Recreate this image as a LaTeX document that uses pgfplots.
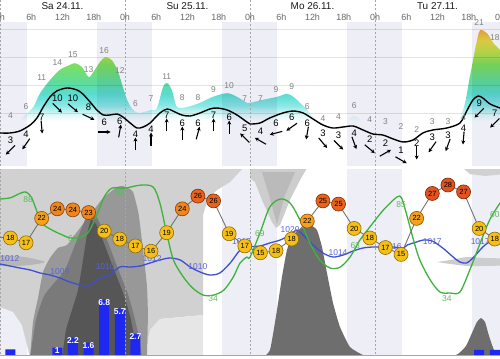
\documentclass[border=0pt]{standalone}
\usepackage{fontspec}
\setmainfont{Liberation Sans}
\usepackage{pgfplots}
\pgfplotsset{compat=1.18}
\usepackage{pgfplotstable}
\usetikzlibrary{arrows.meta}

\definecolor{nightc}{HTML}{EEEEF6}
\definecolor{gridc}{HTML}{E4E4E4}
\definecolor{hum}{HTML}{3DB33D}
\definecolor{humlab}{HTML}{5DBB5D}
\definecolor{pres}{HTML}{3E4FCF}
\definecolor{preslab}{HTML}{5B62D6}
\definecolor{barc}{HTML}{1E28F0}
\definecolor{ty}{HTML}{F6BF17}\definecolor{tyd}{HTML}{8F6A00}
\definecolor{to}{HTML}{F4A21E}\definecolor{tod}{HTML}{8F5200}
\definecolor{tr}{HTML}{EE861F}\definecolor{trd}{HTML}{8A4000}
\definecolor{tR}{HTML}{E8631F}\definecolor{tRd}{HTML}{7F2F00}
\definecolor{tX}{HTML}{E4521F}\definecolor{tXd}{HTML}{7A2500}
\definecolor{cA}{HTML}{D1D1D1}
\definecolor{cB}{HTML}{E6E6E6}
\definecolor{cL}{HTML}{B6B6B6}
\definecolor{cM}{HTML}{989898}
\definecolor{cD}{HTML}{7A7A7A}
\definecolor{cE}{HTML}{565656}
\definecolor{cV}{HTML}{CDCDCD}
\definecolor{cW}{HTML}{BABABA}
\definecolor{cK}{HTML}{6E6E6E}
\definecolor{gA}{HTML}{E2F8F7}
\definecolor{gB}{HTML}{8EE9E6}
\definecolor{gC}{HTML}{5ADCD2}
\definecolor{gD}{HTML}{5EDC9E}
\definecolor{gE}{HTML}{7DDF5C}
\definecolor{gF}{HTML}{BCE24A}
\definecolor{gG}{HTML}{EBD844}
\definecolor{gH}{HTML}{F2A43C}
\pgfdeclareverticalshading{gust}{100bp}{color(0bp)=(white); color(38.5bp)=(white); color(40.4bp)=(gA); color(43.1bp)=(gB); color(46.6bp)=(gC); color(50.2bp)=(gD); color(55.6bp)=(gE); color(59.2bp)=(gF); color(62.8bp)=(gG); color(66.4bp)=(gH); color(100bp)=(gH)}

\newcommand\fs[1]{\fontsize{#1}{#1}\selectfont}

% ---------------- data ----------------
\pgfplotstableread{
h g
-1 3.5
2 4
5 6.3
6.4 7.5
7.7 9.8
9.6 12
11.5 13.7
13.4 14.5
14.4 14.8
15.7 14.2
17 12.5
17.9 13.3
19.2 15
20.2 15.8
21.5 15.3
22.7 13.3
23.6 10.8
24.4 8.7
25.3 7.3
26.5 6.5
29 7
30.1 7.3
31.3 10.8
32.1 11.5
33 10.3
34 7.5
35.9 7.5
38.4 8.2
40.9 9.2
43.6 9.8
45.5 9.2
47.4 8.2
48 8.2
50.5 8.7
53.2 9.2
55.1 9.7
56.3 9.2
57.6 8.2
59 7
62 4
65 4
68 6
71 4
74 3
77 2
80 2
83 3
86 3
88.9 7
90.2 12.5
91.6 18.7
92.2 20.3
93.5 19.8
94.7 18.2
96 17
}\gusttab

\pgfplotstableread{
h v
-1 3.17
0 3.17
1.9 3.17
3.8 3.5
5.8 4.5
7.1 5.67
8.3 7.5
9.6 9.17
10.9 10.17
12.9 10.67
14.8 10.33
15.9 9.67
17.3 8.33
18.6 7
19.8 6.17
21.1 6.17
22.5 6.33
23.6 5.83
25 4.83
26.3 4
27.5 4.17
28.8 4.83
30.7 6.5
32.1 7.17
33.2 6.83
34.9 6.17
36.5 6
38.4 6.5
40.3 7.17
41.7 7.33
43.6 7
45.5 6.17
47.4 5
48 4.67
49.9 4.83
51.8 5.67
54.3 6.5
56.3 6.83
58.2 6.5
60.1 5.5
62 4.5
63.9 4
65.9 4.17
67.8 4.33
69.7 3.67
71.6 3
73.5 2.83
75.5 2.17
77.4 1.67
79.3 2
81.2 3.17
83.1 3.67
85.8 4
88.3 4.83
89.7 7
90.8 8.67
91.8 9.33
92.7 9
94.1 8
96 7.33
97 7
}\windline

\pgfplotstableread{
h ly lab dir
2 2.0 3 225
5 3.0 4 235
8 5.83 7 275
11 9.0 10 315
14 9.0 10 320
17 7.5 8 335
20 5.0 6 0
23 5.17 6 80
26 3.0 4 90
29 3.83 4 90
32 6.17 7 90
35 4.83 6 90
38 4.83 6 75
41 6.17 7 90
44 5.83 6 90
47 4.0 5 135
50 3.5 4 150
53 4.83 6 195
56 5.83 6 215
59 4.83 6 260
62 3.17 3 310
65 2.83 3 315
68 3.17 4 290
71 2.17 2 320
74 1.5 2 30
77 0.33 1 330
80 1.5 2 270
83 2.5 3 235
86 2.83 3 250
89 4.0 4 265
92 8.17 9 225
95 6.5 7 225
}\windtab

\pgfplotstableread{
h ly lab
2 6.0 4
5 7.5 6
8 12.33 11
11 14.83 14
14 16.17 15
17 13.67 13
20 16.83 16
23 13.5 12
26 8.0 6
29 8.83 7
32 12.5 11
35 9.0 8
38 9.0 8
41 10.33 9
44 11.0 10
47 8.83 7
50 8.83 7
53 10.33 9
56 10.83 9
59 7.5 6
62 5.5 4
65 5.83 4
68 7.67 6
71 5.33 4
74 5.0 3
77 4.17 2
80 3.67 2
83 5.0 3
86 5.0 3
89 5.67 4
92 21.5 21
95 19.0 18
}\gustlab

\pgfplotstableread{
h pos lab cls
-1 18.2 18 y
2 18.0 18 y
5 17.1 17 y
8 21.7 22 o
11 23.5 24 r
14 23.3 24 r
17 22.8 23 r
20 19.3 20 y
23 17.8 18 y
26 16.5 17 y
29 15.5 16 y
32 19.0 19 y
35 23.5 24 r
38 25.9 26 R
41 25.0 26 R
44 18.8 19 y
47 16.5 17 y
50 15.2 15 y
53 15.6 18 y
56 17.8 18 y
59 21.2 22 o
62 25.0 25 R
65 24.4 25 R
68 19.8 20 y
71 18.0 18 y
74 16.2 17 y
77 14.9 15 y
80 21.7 22 o
83 26.4 27 X
86 28.0 28 X
89 26.7 27 X
92 19.8 20 y
95 17.8 18 y
}\temptab

\pgfplotstableread{
h H
-1 84
0 84.8
2 85.5
4 88
5 88.5
6 85.9
7 79
8 72.1
10 68.4
12 65.8
13.5 64.2
15.5 64.7
17 67.4
18.6 76.4
20 85.9
21.5 90.6
24 90.6
27 92.2
29.4 91.2
30.7 82.7
32 66.8
33.3 52.6
35.2 43.6
37 37.7
39 34
41 34
43 36.7
44.8 43.6
46.1 51
47.4 54.1
48 54.1
49.9 66.8
51.8 80.6
53.8 84.8
55.7 82.7
57.6 73.7
59.5 61.5
61.4 52.6
63.4 48.3
65.3 48.8
67.2 54.1
69.1 63.1
71 70
73.6 79
76.2 85.9
77.1 85.4
78 77.4
79.4 63.1
80.6 52.6
82.6 42
84.5 35.6
86.4 35.1
88.3 35.6
90.2 47.3
92.2 61.5
94 73.7
96 82.7
97 86
}\humtab

\pgfplotstableread{
h y lab
5.4 84.8 88
14 63.7 63
23 88 92
40.9 31.9 34
49.9 66.3 69
68.2 60 63
77 81.7 85
85.8 31.9 34
95 76.4 60
}\humlab

\pgfplotstableread{
h p
-1 1013.6
0 1013.4
1.9 1013
3.8 1012.6
5.8 1012.2
7.7 1011.6
9.6 1011.2
11.5 1010.6
13.4 1009.8
15.4 1009.2
16.6 1009
17.9 1009.6
19.2 1010.6
21.1 1011.2
23 1012.8
25 1012.8
26.9 1013
28.8 1013.6
30.7 1014.2
32.6 1014.6
34.6 1014.2
36.5 1012.8
38.4 1011.8
40.3 1011.2
42.2 1011.6
44.2 1013.6
46.1 1016.2
47.4 1016.8
49.9 1017
51.8 1017.6
53.8 1018.2
55.7 1019.2
57 1020.2
58.2 1019.2
60.1 1017.2
62 1015.6
63.9 1014.8
65.9 1015.2
67.8 1016
69.7 1016.6
71.6 1016.8
73.5 1016.8
75.5 1016.8
77.4 1016.6
78.2 1017.2
80 1017.8
81.3 1018.2
83 1018
85 1016.6
87 1014.8
88.3 1013.8
89.6 1013.6
90.8 1014.6
92.7 1016.8
94 1017.8
96 1018.2
97 1018.3
}\prestab

\pgfplotstableread{
h y lab
1.9 1014.4 1012
11.5 1011.8 1009
20.2 1012.8 1010
29.2 1014.4 1012
38 1012.8 1010
46.4 1017.8 1017
55.7 1020.2 1020
64.9 1015.6 1014
75.3 1016.8 1016
83 1017.8 1017
92.2 1017.8 1017
}\preslab

\pgfplotstableread{
h r
2 0.8
11 1.0
14 2.2
17 1.6
20 6.8
23 5.7
26 2.7
92 0.75
95 0.75
}\raintab

\pgfplotstableread{
h r lab
11 1.0 1
14 2.2 2.2
17 1.6 1.6
20 6.8 6.8
23 5.7 5.7
26 2.7 2.7
}\rainlab

\pgfplotsset{
  panel/.style={scale only axis, width=500bp, xmin=0, xmax=96, hide axis, anchor=south west},
  bottom/.style={panel, at={(0bp,3bp)}, height=186bp},
  lab/.style={draw=none, mark=none, nodes near coords, point meta=explicit symbolic,
    nodes near coords style={anchor=center, inner sep=0pt, #1}},
}

\begin{document}
\begin{tikzpicture}
\useasboundingbox (0,0) rectangle (500bp,359bp);

% ================= TOP PANEL (wind) =================
\begin{axis}[panel, at={(0bp,193bp)}, height=166bp, ymin=-2.3333, ymax=25.3333]
\addplot[draw=none, shade, shading=gust, smooth, tension=0.5] table[x=h,y=g]{\gusttab} \closedcycle (axis cs:0,-2.3333) (axis cs:96,25.3333);
\fill[nightc, blend mode=multiply] (axis cs:-6,-2.4) rectangle (axis cs:5.2,21.7);
\fill[nightc, blend mode=multiply] (axis cs:18.6,-2.4) rectangle (axis cs:29.2,21.7);
\fill[nightc, blend mode=multiply] (axis cs:42.6,-2.4) rectangle (axis cs:53.2,21.7);
\fill[nightc, blend mode=multiply] (axis cs:66.6,-2.4) rectangle (axis cs:77.2,21.7);
\fill[nightc, blend mode=multiply] (axis cs:90.6,-2.4) rectangle (axis cs:102,21.7);
\draw[gridc, line width=0.5bp, blend mode=multiply] (axis cs:0,20.5) -- (axis cs:96,20.5);
\draw[gridc, line width=0.5bp, blend mode=multiply] (axis cs:0,15.83) -- (axis cs:96,15.83);
\draw[gridc, line width=0.5bp, blend mode=multiply] (axis cs:0,11.17) -- (axis cs:96,11.17);
\draw[gridc, line width=0.5bp, blend mode=multiply] (axis cs:0,6.5) -- (axis cs:96,6.5);
\draw[gray!70, line width=0.6bp, dash pattern=on 2bp off 2bp] (axis cs:0,-2.4) -- (axis cs:0,26);
\draw[gray!70, line width=0.6bp, dash pattern=on 2bp off 2bp] (axis cs:24,-2.4) -- (axis cs:24,26);
\draw[gray!70, line width=0.6bp, dash pattern=on 2bp off 2bp] (axis cs:48,-2.4) -- (axis cs:48,26);
\draw[gray!70, line width=0.6bp, dash pattern=on 2bp off 2bp] (axis cs:72,-2.4) -- (axis cs:72,26);
\draw[gray!70, line width=0.6bp, dash pattern=on 2bp off 2bp] (axis cs:96,-2.4) -- (axis cs:96,26);
\addplot[black, line width=1.4bp, smooth, tension=0.5] table[x=h,y=v]{\windline};
\addplot[lab={font=\fs{8.5}, text=black!50}] table[x=h,y=ly,meta=lab]{\gustlab};
\addplot[lab={font=\fs{9.5}, text=black}] table[x=h,y=ly,meta=lab]{\windtab};
\addplot[black, line width=1.1bp, -{Stealth[length=4bp,width=4bp]},
  quiver={u={2.5*cos(\thisrow{dir})}, v={2.1667*sin(\thisrow{dir})}}]
  table[x expr={\thisrow{h}-1.25*cos(\thisrow{dir})}, y expr={\thisrow{ly}-1.6667-1.0833*sin(\thisrow{dir})}]{\windtab};
% day and hour labels
\node[font=\fs{10}, text=black!90] at (axis cs:12,24.33) {Sa 24.11.};
\node[font=\fs{10}, text=black!90] at (axis cs:36,24.33) {Su 25.11.};
\node[font=\fs{10}, text=black!90] at (axis cs:60,24.33) {Mo 26.11.};
\node[font=\fs{10}, text=black!90] at (axis cs:84,24.33) {Tu 27.11.};
\node[font=\fs{9}, text=black!60] at (axis cs:0,22.5) {0h};
\node[font=\fs{9}, text=black!60] at (axis cs:6,22.5) {6h};
\node[font=\fs{9}, text=black!60] at (axis cs:12,22.5) {12h};
\node[font=\fs{9}, text=black!60] at (axis cs:18,22.5) {18h};
\node[font=\fs{9}, text=black!60] at (axis cs:24,22.5) {0h};
\node[font=\fs{9}, text=black!60] at (axis cs:30,22.5) {6h};
\node[font=\fs{9}, text=black!60] at (axis cs:36,22.5) {12h};
\node[font=\fs{9}, text=black!60] at (axis cs:42,22.5) {18h};
\node[font=\fs{9}, text=black!60] at (axis cs:48,22.5) {0h};
\node[font=\fs{9}, text=black!60] at (axis cs:54,22.5) {6h};
\node[font=\fs{9}, text=black!60] at (axis cs:60,22.5) {12h};
\node[font=\fs{9}, text=black!60] at (axis cs:66,22.5) {18h};
\node[font=\fs{9}, text=black!60] at (axis cs:72,22.5) {0h};
\node[font=\fs{9}, text=black!60] at (axis cs:78,22.5) {6h};
\node[font=\fs{9}, text=black!60] at (axis cs:84,22.5) {12h};
\node[font=\fs{9}, text=black!60] at (axis cs:90,22.5) {18h};
\node[font=\fs{9}, text=black!60] at (axis cs:96,22.5) {0h};
\end{axis}

% ================= BOTTOM PANEL: clouds =================
\begin{axis}[bottom, ymin=0, ymax=100]
\fill[nightc] (axis cs:-6,-1) rectangle (axis cs:5.2,101);
\fill[nightc] (axis cs:18.6,-1) rectangle (axis cs:29.2,101);
\fill[nightc] (axis cs:42.6,-1) rectangle (axis cs:53.2,101);
\fill[nightc] (axis cs:66.6,-1) rectangle (axis cs:77.2,101);
\fill[nightc] (axis cs:90.6,-1) rectangle (axis cs:102,101);
\addplot[fill=cA, draw=none] coordinates {(-1,101) (46.66,101) (44.16,93.5) (41.66,89.2) (39.94,84.9) (38.98,75.8) (38.98,22.0) (30.72,19.9) (28.8,14.0) (27.84,-1) (5.76,-1) (5.18,5.9) (4.22,16.7) (2.5,23.7) (-1,27.4)} -- cycle;
\addplot[fill=cB, draw=none] coordinates {(27.84,-1) (28.8,14) (30.72,19.9) (38.98,22) (38.98,-1)} -- cycle;
\addplot[fill=cL, draw=none, smooth, tension=0.4] coordinates {(-1,54.3) (2.88,53.8) (5.76,52.7) (8.64,50.5) (5.76,48.9) (2.88,48.4) (-1,48.4)} -- cycle;
\addplot[fill=cM, draw=none, smooth, tension=0.3] coordinates {(5.76,-1) (6.34,18.3) (7.30,31.2) (8.26,45.2) (9.6,52.7) (11.14,58.1) (12.86,59.7) (14.78,66.7) (17.28,75.8) (19.78,84.9) (22.46,90.9) (23.62,91.4) (24.58,90.3) (25.54,88.2) (26.6,76.5) (27.5,56) (28.2,38) (28.4,22.0) (28.2,-1)} -- cycle;
\addplot[fill=cD, draw=none, smooth, tension=0.3] coordinates {(5.76,-1) (6.91,19.4) (8.45,32.3) (10.56,39.8) (12.48,46.2) (14.4,59.7) (16.32,73.1) (17.28,76.9) (18.7,74) (20.2,65) (21.7,54) (23.2,43) (24.6,33) (25.7,22) (26.7,10) (27.3,-1)} -- cycle;
\addplot[fill=cE, draw=none, smooth, tension=0.3] coordinates {(11.9,-1) (12.67,14) (13.82,24.7) (14.98,35.5) (15.94,51.6) (16.7,65.1) (17.47,73.1) (18.43,71) (19.78,62) (21.12,52) (22.66,41) (24,31) (25.1,20) (25.9,8) (26.4,-1)} -- cycle;
\addplot[fill=cV, draw=none] coordinates {(48,101) (58.94,101) (57.6,94.6) (55.68,83.9) (53.76,70.4) (52.99,68.8) (52.22,72) (50.3,83.9) (48.96,93.5) (48,95.7)} -- cycle;
\addplot[fill=cW, draw=none] coordinates {(50.3,98.9) (56.64,98.9) (54.72,86.6) (53.18,71) (51.65,86.6)} -- cycle;
\addplot[fill=cK, draw=none, smooth, tension=0.3] coordinates {(50.3,-1) (51.84,3.2) (53.18,24.7) (54.14,42.5) (55.1,57) (56.26,65.1) (57.98,68.8) (59.52,70.4) (60.86,67.7) (61.82,58.6) (62.78,44.6) (63.94,28.5) (65.28,15.6) (67.2,4.8) (69.7,0.5) (71.42,-1)} -- cycle;
\addplot[fill=cV, draw=none, smooth, tension=0.4] coordinates {(83.9,50.5) (86.4,51.6) (89.66,53.2) (92.74,52.7) (97,52.2) (97,48.9) (92.74,48.4) (89.66,48.4) (86.4,49.5)} -- cycle;
\addplot[fill=cA, draw=none] coordinates {(88.9,101) (97,101) (97,97.8) (93.12,96.8) (90.24,97.8)} -- cycle;
\addplot[fill=cK, draw=none, smooth, tension=0.3] coordinates {(86.0,-1) (87.94,1.1) (89.47,5.4) (90.62,12.4) (91.58,18.3) (92.35,20.4) (93.12,18.3) (93.89,10.8) (94.85,3.2) (96,0.5) (97,-1)} -- cycle;
\draw[gray!70, line width=0.6bp, dash pattern=on 2bp off 2bp] (axis cs:0,-1) -- (axis cs:0,101);
\draw[gray!70, line width=0.6bp, dash pattern=on 2bp off 2bp] (axis cs:24,-1) -- (axis cs:24,101);
\draw[gray!70, line width=0.6bp, dash pattern=on 2bp off 2bp] (axis cs:48,-1) -- (axis cs:48,101);
\draw[gray!70, line width=0.6bp, dash pattern=on 2bp off 2bp] (axis cs:72,-1) -- (axis cs:72,101);
\draw[gray!70, line width=0.6bp, dash pattern=on 2bp off 2bp] (axis cs:96,-1) -- (axis cs:96,101);
\end{axis}

% ================= precipitation =================
\begin{axis}[bottom, ymin=0, ymax=22.4]
\addplot[ybar, bar width=10bp, fill=barc, draw=none] table[x=h,y=r]{\raintab};
\addplot[lab={anchor=north, font=\bfseries\fs{8.5}, text=white, yshift=0.5bp}] table[x=h,y=r,meta=lab]{\rainlab};
\end{axis}

% ================= pressure =================
\begin{axis}[bottom, ymin=995, ymax=1032.2]
\addplot[pres, line width=1.3bp, smooth, tension=0.5] table[x=h,y=p]{\prestab};
\addplot[lab={font=\fs{8.5}, text=preslab}] table[x=h,y=y,meta=lab]{\preslab};
\end{axis}

% ================= humidity =================
\begin{axis}[bottom, ymin=1.76, ymax=100.2]
\addplot[hum, line width=1.3bp, smooth, tension=0.5] table[x=h,y=H]{\humtab};
\addplot[lab={font=\fs{8.5}, text=humlab}] table[x=h,y=y,meta=lab]{\humlab};
\end{axis}

% ================= temperature =================
\begin{axis}[bottom, ymin=-4.264, ymax=30.83]
\addplot[black!55, line width=0.9bp] table[x=h,y=pos]{\temptab};
\addplot[scatter, only marks, mark=*, mark size=7bp, line width=0.6bp,
  scatter src=explicit symbolic,
  scatter/classes={y={fill=ty,draw=tyd}, o={fill=to,draw=tod}, r={fill=tr,draw=trd}, R={fill=tR,draw=tRd}, X={fill=tX,draw=tXd}}]
  table[x=h,y=pos,meta=cls]{\temptab};
\addplot[lab={font=\fs{7.5}, text=black}] table[x=h,y=pos,meta=lab]{\temptab};
\end{axis}

\draw[gray!70, line width=1bp] (0,3bp) -- (500bp,3bp);
\end{tikzpicture}
\end{document}
